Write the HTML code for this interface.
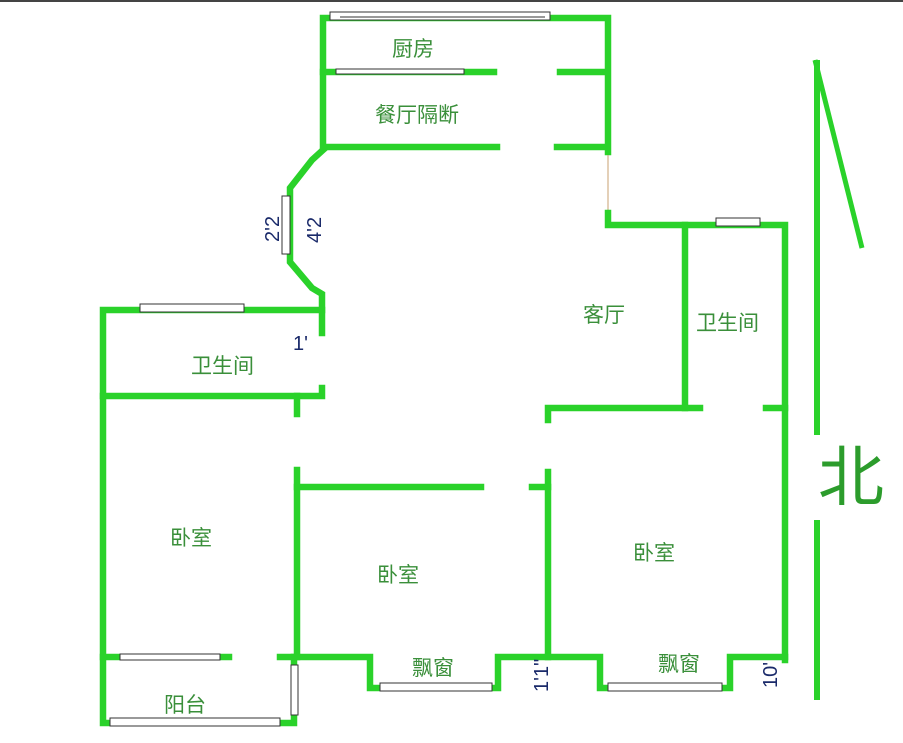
<!DOCTYPE html>
<html><head><meta charset="utf-8"><style>
body{margin:0;background:#fff}
svg{display:block}
text{font-family:"Liberation Sans","Noto Sans CJK SC",sans-serif}
.w{stroke:#2ad22a;stroke-width:6.5;fill:none;stroke-linecap:square;stroke-linejoin:miter}
.win{fill:#fff;stroke:#333;stroke-width:1}
.l{fill:#3a8f3a;font-size:21px}
.d{fill:#1a2a6a;font-size:20px}
</style></head><body>
<svg width="903" height="743" viewBox="0 0 903 743">
<line x1="0" y1="1" x2="903" y2="1" stroke="#444" stroke-width="2"/>
<polyline class="w" points="608,152 608,18 323,18 323,147 497,147"/>
<line class="w" x1="557" y1="147" x2="606" y2="147"/>
<line class="w" x1="323" y1="72" x2="494" y2="72"/>
<line class="w" x1="560" y1="72" x2="606" y2="72"/>
<rect class="win" x="330" y="12" width="220" height="8"/>
<line x1="340" y1="17" x2="545" y2="17" stroke="#333"/>
<rect class="win" x="336" y="69" width="128" height="5"/>
<line x1="608" y1="155" x2="608" y2="213" stroke="#c9a070" stroke-width="1"/>
<polyline class="w" points="608,213 608,225 785,225 785,660"/>
<rect class="win" x="716" y="218" width="44" height="8"/>
<polyline class="w" points="323,150 312,160 290,188 290,262 312,288 322,294 322,333"/>
<rect class="win" x="282" y="196" width="8" height="58"/>
<polyline class="w" points="322,310 103,310 103,723 294,723 294,657"/>
<rect class="win" x="140" y="304" width="104" height="8"/>
<polyline class="w" points="103,396 322,396 322,388"/>
<line class="w" x1="297" y1="396" x2="297" y2="414"/>
<polyline class="w" points="297,470 297,657 370,657 370,688 498,688 498,657 548,657 548,472"/>
<line class="w" x1="297" y1="487" x2="481" y2="487"/>
<line class="w" x1="532" y1="487" x2="548" y2="487"/>
<polyline class="w" points="548,420 548,408 700,408"/>
<line class="w" x1="685" y1="225" x2="685" y2="408"/>
<line class="w" x1="766" y1="408" x2="785" y2="408"/>
<polyline class="w" points="548,657 600,657 600,688 730,688 730,657 785,657"/>
<line class="w" x1="103" y1="657" x2="229" y2="657"/>
<rect class="win" x="120" y="654" width="100" height="6"/>
<line class="w" x1="280" y1="657" x2="297" y2="657"/>
<rect class="win" x="110" y="718" width="170" height="8"/>
<rect class="win" x="291" y="665" width="7" height="50"/>
<rect class="win" x="380" y="683" width="112" height="8"/>
<rect class="win" x="608" y="683" width="114" height="8"/>
<line x1="817" y1="60" x2="817" y2="435" stroke="#2ad22a" stroke-width="6"/>
<line x1="817" y1="520" x2="817" y2="700" stroke="#2ad22a" stroke-width="6"/>
<line x1="815" y1="60" x2="862" y2="248" stroke="#2ad22a" stroke-width="5"/>
<text x="818" y="500" fill="#2c9c2c" font-size="66">北</text>
<text class="l" x="392" y="56">厨房</text>
<text class="l" x="375" y="122">餐厅隔断</text>
<text class="l" x="583" y="322">客厅</text>
<text class="l" x="696" y="330">卫生间</text>
<text class="l" x="191" y="373">卫生间</text>
<text class="l" x="170" y="545">卧室</text>
<text class="l" x="377" y="582">卧室</text>
<text class="l" x="633" y="560">卧室</text>
<text class="l" x="412" y="675">飘窗</text>
<text class="l" x="658" y="671">飘窗</text>
<text class="l" x="164" y="712">阳台</text>
<text class="d" transform="translate(279,242) rotate(-90)" font-size="24">2'2</text>
<text class="d" transform="translate(321,243) rotate(-90)" font-size="24">4'2</text>
<text class="d" x="293" y="350" font-size="20">1'</text>
<text class="d" transform="translate(548,692) rotate(-90)" font-size="20">1'1"</text>
<text class="d" transform="translate(777,688) rotate(-90)" font-size="20">10'</text>
</svg>
</body></html>
